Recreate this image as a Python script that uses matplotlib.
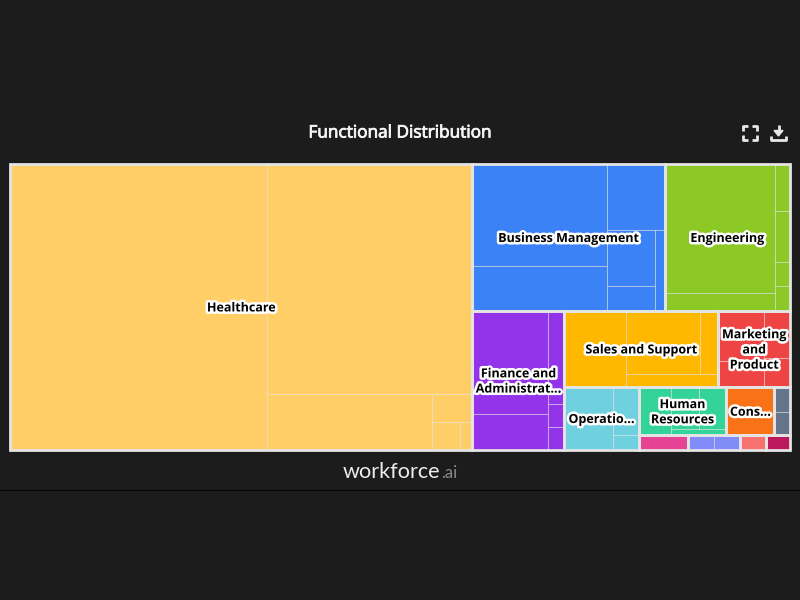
import matplotlib
matplotlib.use("Agg")
import matplotlib.pyplot as plt
import matplotlib.patheffects as pe
from matplotlib.patches import Rectangle

BG = "#1c1c1c"
FRAME = "#e4e4e4"

# group -> values of the sub-cells (no names visible in the picture)
healthcare = [73645, 47048, 9294, 1154, 784, 350]
business = [13838, 6008, 3734, 2679, 1152, 815]
engineering = [14245, 1925, 736, 775, 372, 395]
finance = [7866, 2698, 1496, 368, 360]
sales = [4674, 4699, 1175, 1156]
marketing = [2323, 1173, 1186, 752]
operations = [3087, 1213, 363]
human_resources = [1576, 1169, 1190, 333]
consulting = [2328]
slate_group = [380, 372]
pink_group = [725]
periwinkle_group = [370, 370]
coral_group = [377]
crimson_group = [355]

groups = {
    "healthcare": (healthcare, "#ffce66", "Healthcare"),
    "business": (business, "#3b82f6", "Business Management"),
    "engineering": (engineering, "#8cc926", "Engineering"),
    "finance": (finance, "#9333ea", "Finance and\nAdministrat..."),
    "sales": (sales, "#ffb700", "Sales and Support"),
    "marketing": (marketing, "#ef4444", "Marketing\nand\nProduct"),
    "operations": (operations, "#6fd0df", "Operatio..."),
    "hr": (human_resources, "#34d399", "Human\nResources"),
    "consulting": (consulting, "#f97316", "Cons..."),
    "slate": (slate_group, "#64748b", None),
    "pink": (pink_group, "#e64394", None),
    "periwinkle": (periwinkle_group, "#818cf8", None),
    "coral": (coral_group, "#f87171", None),
    "crimson": (crimson_group, "#be185d", None),
}

# how the cells get nested: 'h' splits side by side, 'v' stacks
top_split = ("h", ["healthcare", ("v", [
    ("h", ["business", "engineering"]),
    ("h", ["finance", ("v", [
        ("h", ["sales", "marketing"]),
        ("h", ["operations", ("v", [
            ("h", ["hr", "consulting", "slate"]),
            ("h", ["pink", "periwinkle", "coral", "crimson"]),
        ])]),
    ])]),
])])

group_splits = {
    "healthcare": ("h", [0, ("v", [1, ("h", [2, ("v", [3, ("h", [4, 5])])])])]),
    "business": ("h", [("v", [0, 1]), ("v", [2, ("h", [("v", [3, 4]), 5])])]),
    "engineering": ("h", [("v", [0, 1]), ("v", [2, 3, 4, 5])]),
    "finance": ("h", [("v", [0, 1]), ("v", [2, 3, 4])]),
    "sales": ("h", [0, ("v", [("h", [1, 2]), 3])]),
    "marketing": ("h", [("v", [0, 1]), ("v", [2, 3])]),
    "operations": ("h", [0, ("v", [1, 2])]),
    "hr": ("h", [0, ("v", [("h", [1, 2]), 3])]),
    "consulting": ("h", [0]),
    "slate": ("v", [0, 1]),
    "pink": ("h", [0]),
    "periwinkle": ("h", [0, 1]),
    "coral": ("h", [0]),
    "crimson": ("h", [0]),
}


def node_total(node, lookup):
    if isinstance(node, tuple):
        return sum(node_total(n, lookup) for n in node[1])
    return lookup(node)


def layout(node, x, y, w, h, lookup, out):
    if not isinstance(node, tuple):
        out[node] = (x, y, w, h)
        return
    total = node_total(node, lookup)
    for child in node[1]:
        share = node_total(child, lookup) / total
        if node[0] == "h":
            layout(child, x, y, w * share, h, lookup, out)
            x += w * share
        else:
            layout(child, x, y, w, h * share, lookup, out)
            y += h * share


fig = plt.figure(figsize=(8, 6), dpi=100, facecolor=BG)

# page furniture in pixel coordinates
chrome = fig.add_axes([0, 0, 1, 1])
chrome.set_xlim(0, 800)
chrome.set_ylim(600, 0)
chrome.axis("off")
chrome.plot([0, 800], [489.5, 489.5], color="#050505", lw=0.8)
chrome.text(400.5, 133.5, "Functional Distribution", color="#f5f5f5", ha="center", va="center",
            fontsize=12.4, family="Open Sans",
            path_effects=[pe.withStroke(linewidth=0.6, foreground="#f5f5f5")])
chrome.text(343, 472, "workforce", color="#ececec", ha="left", va="center", fontsize=15.6, family="Lato")
chrome.text(441, 473.5, ".ai", color="#8a8a8a", ha="left", va="center", fontsize=12, family="Lato")

# fullscreen and download icons
icon = dict(color="#e8e8e8", lw=2.0, solid_capstyle="butt")
for cx, cy, dx, dy in [(743, 125.5, 1, 1), (757, 125.5, -1, 1), (743, 140, 1, -1), (757, 140, -1, -1)]:
    chrome.plot([cx + 5 * dx, cx, cx], [cy, cy, cy + 5 * dy], **icon)
chrome.plot([778.5, 778.5], [125, 132], **icon)
chrome.fill([774, 783, 778.5], [130.5, 130.5, 136], color="#e8e8e8")
chrome.plot([771, 771, 786, 786], [136, 139.5, 139.5, 136], **icon)

# treemap
ax = fig.add_axes([10 / 800, 1 - 450 / 600, 780 / 800, 286 / 600])
ax.set_xlim(0, 1)
ax.set_ylim(1, 0)
ax.axis("off")

group_rects = {}
layout(top_split, 0, 0, 1, 1, lambda name: sum(groups[name][0]), group_rects)

for name, (values, color, label) in groups.items():
    x, y, w, h = group_rects[name]
    cells = {}
    layout(group_splits[name], x, y, w, h, lambda i: values[i], cells)
    for cx, cy, cw, ch in cells.values():
        ax.add_patch(Rectangle((cx, cy), cw, ch, facecolor=color, edgecolor=(1, 1, 1, 0.45), lw=0.75, zorder=1))

for name, (values, color, label) in groups.items():
    x, y, w, h = group_rects[name]
    ax.add_patch(Rectangle((x, y), w, h, facecolor="none", edgecolor=FRAME, lw=2.0, zorder=2, clip_on=False))
    if label:
        ax.annotate(label, (x + w / 2, y + h / 2), xytext=(0, -0.7), textcoords="offset points",
                    ha="center", va="center", fontsize=9.0, fontweight="bold",
                    family="Open Sans", color="#000000", linespacing=1.22, zorder=3,
                    path_effects=[pe.withStroke(linewidth=3.6, foreground="white")])

fig.savefig("out.png", dpi=100, facecolor=BG)
